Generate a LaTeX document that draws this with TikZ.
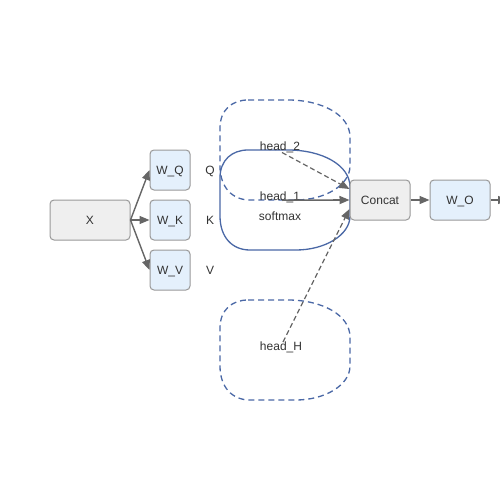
\documentclass[tikz,border=0pt]{standalone}
\usepackage{fontspec}
\setmainfont{Liberation Sans}
\usetikzlibrary{arrows.meta,calc}
\definecolor{edgec}{HTML}{666666}
\definecolor{bordc}{HTML}{999999}
\definecolor{greyfill}{HTML}{EFEFEF}
\definecolor{bluefill}{HTML}{E4F0FC}
\definecolor{loopc}{HTML}{4A68A6}
\definecolor{txtc}{HTML}{333333}
\newcommand\headloop[2]{%
  \draw[#1] (248,#2) -- (288,#2)
    .. controls (322,#2) and (350,#2+15) .. (350,#2+37) -- (350,#2+66)
    .. controls (350,#2+85) and (325,#2+100) .. (296,#2+100) -- (250,#2+100)
    .. controls (232,#2+100) and (220,#2+87) .. (220,#2+66) -- (220,#2+28)
    .. controls (220,#2+10) and (232,#2) .. (248,#2) -- cycle;}
\begin{document}
\begin{tikzpicture}[x=1pt,y=-1pt,
  every node/.style={font=\fontsize{12}{14}\selectfont, text=txtc, text height=8.6pt, text depth=0pt},
  box/.style={draw=bordc, line width=1pt, rounded corners=4pt, inner sep=0pt},
  graybox/.style={box, fill=greyfill},
  bluebox/.style={box, fill=bluefill},
  arr/.style={draw=edgec, line width=1.4pt, -{Triangle[length=10pt,width=8pt]}},
  darr/.style={arr, line width=1.2pt, dash pattern=on 5pt off 3pt},
  loopsolid/.style={draw=loopc, line width=1.3pt},
  loopdash/.style={draw=loopc, line width=1.3pt, dash pattern=on 6pt off 4pt},
  lbl/.style={inner sep=0pt}]
\useasboundingbox (0,0) rectangle (500,500);
\clip (0,0) rectangle (500,500);
\fill[white] (0,0) rectangle (500,500);

% head loops
\headloop{loopdash}{100}
\headloop{loopsolid}{150}
\headloop{loopdash}{300}

% labels
\node[lbl] (h2) at (280,146) {head\_2};
\node[lbl] (h1) at (280,196) {head\_1};
\node[lbl] (sm) at (280,216) {softmax};
\node[lbl] (hH) at (281,346) {head\_H};
\node[lbl] (q) at (210,170) {Q};
\node[lbl] (k) at (210,220) {K};
\node[lbl] (v) at (210,270) {V};

% boxes
\node[graybox, minimum width=80pt, minimum height=40pt] (x) at (90,220) {X};
\node[bluebox, minimum width=40pt, minimum height=40pt] (wq) at (170,170) {W\_Q};
\node[bluebox, minimum width=40pt, minimum height=40pt] (wk) at (170,220) {W\_K};
\node[bluebox, minimum width=40pt, minimum height=40pt] (wv) at (170,270) {W\_V};
\node[graybox, minimum width=60pt, minimum height=40pt] (concat) at (380,200) {Concat};
\node[bluebox, minimum width=60pt, minimum height=40pt] (wo) at (460,200) {W\_O};
\coordinate (out) at (508,200);

% connectors
\draw[arr] (x.east) -- (wq.west);
\draw[arr] (x.east) -- (wk.west);
\draw[arr] (x.east) -- (wv.west);
\draw[darr] ($(h2.south)+(2,2)$) -- ($(concat.west)+(0,-11)$);
\draw[arr, line width=1.6pt] ($(h1.south)+(2,-0.3)$) -- (concat.west);
\draw[darr] ($(hH.center)+(2,-4)$) -- ($(concat.west)+(0,9)$);
\draw[arr] (concat.east) -- (wo.west);
\draw[arr] (wo.east) -- (out);
\end{tikzpicture}
\end{document}
